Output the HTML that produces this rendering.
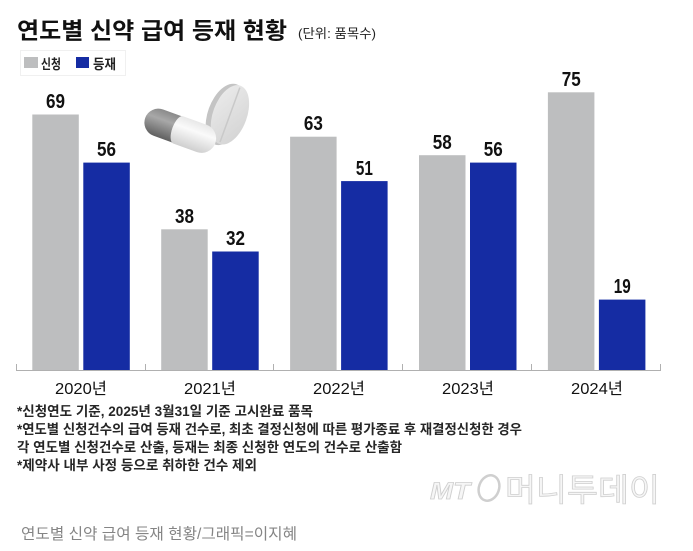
<!DOCTYPE html>
<html><head><meta charset="utf-8"><style>
html,body{margin:0;padding:0;background:#fff;}
svg{display:block;}
.k{font-family:"Liberation Sans","Noto Sans CJK KR",sans-serif;}
</style></head><body>
<svg width="693" height="551" viewBox="0 0 693 551" xmlns="http://www.w3.org/2000/svg">
<defs>
<linearGradient id="dk" x1="0" y1="0" x2="0" y2="1">
<stop offset="0" stop-color="#8a8a8a"/><stop offset="0.35" stop-color="#a8a8a8"/><stop offset="1" stop-color="#606060"/>
</linearGradient>
<linearGradient id="lt" x1="0" y1="0" x2="0" y2="1">
<stop offset="0" stop-color="#e8e8e8"/><stop offset="0.35" stop-color="#fafafa"/><stop offset="1" stop-color="#cfcfcf"/>
</linearGradient>
<linearGradient id="tb" x1="0" y1="0" x2="1" y2="1">
<stop offset="0" stop-color="#ececec"/><stop offset="1" stop-color="#d2d2d2"/>
</linearGradient>
</defs>
<rect width="693" height="551" fill="#fff"/>

<!-- Title -->
<text class="k" x="17" y="38.5" font-size="23" font-weight="bold" fill="#111" textLength="270" lengthAdjust="spacingAndGlyphs">연도별 신약 급여 등재 현황</text>
<text class="k" x="298" y="38" font-size="13" fill="#222" textLength="78" lengthAdjust="spacingAndGlyphs">(단위: 품목수)</text>

<!-- Legend -->
<rect x="20.5" y="50.5" width="105" height="25" fill="#fff" stroke="#f0f0f0"/>
<rect x="24" y="57" width="14" height="11" fill="#bdbebf"/>
<text class="k" x="41" y="69" font-size="13.5" font-weight="bold" fill="#222" textLength="20" lengthAdjust="spacingAndGlyphs">신청</text>
<rect x="76" y="57" width="13" height="11" fill="#152ca3"/>
<text class="k" x="93" y="69" font-size="13.5" font-weight="bold" fill="#222" textLength="23" lengthAdjust="spacingAndGlyphs">등재</text>

<!-- Pills -->
<g transform="translate(229,114.5) rotate(20)">
<ellipse cx="-3" cy="1" rx="18" ry="32" fill="#c4c4c4"/>
<ellipse cx="1" cy="0" rx="17" ry="31" fill="url(#tb)"/>
<line x1="1" y1="-29" x2="1" y2="29" stroke="#c9c9c9" stroke-width="1.5"/>
</g>
<g transform="translate(180,130.5) rotate(20)">
<path d="M0,-14 L-23,-14 A14,14 0 0 0 -23,14 L0,14 Z" fill="url(#dk)"/>
<path d="M-2,-14.5 L23,-14.5 A14.5,14.5 0 0 1 23,14.5 L-2,14.5 A6,14.5 0 0 1 -2,-14.5 Z" fill="url(#lt)"/>
</g>

<!-- Axis -->
<line x1="16" y1="370.5" x2="661" y2="370.5" stroke="#b0b0b0" stroke-width="1"/>
<g stroke="#b0b0b0" stroke-width="1">
<line x1="16.5" y1="364" x2="16.5" y2="371"/>
<line x1="145.5" y1="364" x2="145.5" y2="371"/>
<line x1="273.5" y1="364" x2="273.5" y2="371"/>
<line x1="402.5" y1="364" x2="402.5" y2="371"/>
<line x1="531.5" y1="364" x2="531.5" y2="371"/>
<line x1="660.5" y1="364" x2="660.5" y2="371"/>
</g>

<!-- Bars -->
<g fill="#bdbebf">
<rect x="32.3" y="114.5" width="46.5" height="255.5"/>
<rect x="161.2" y="229.3" width="46.5" height="140.7"/>
<rect x="290.1" y="136.7" width="46.5" height="233.3"/>
<rect x="419" y="155.2" width="46.5" height="214.8"/>
<rect x="547.9" y="92.3" width="46.5" height="277.7"/>
</g>
<g fill="#152ca3">
<rect x="83.3" y="162.6" width="46.5" height="207.4"/>
<rect x="212.2" y="251.5" width="46.5" height="118.5"/>
<rect x="341.1" y="181.1" width="46.5" height="188.9"/>
<rect x="470" y="162.6" width="46.5" height="207.4"/>
<rect x="598.9" y="299.6" width="46.5" height="70.4"/>
</g>

<!-- Value labels -->
<g class="k" font-size="20" font-weight="bold" fill="#111" text-anchor="middle">
<text x="55.5" y="108" textLength="19" lengthAdjust="spacingAndGlyphs">69</text>
<text x="106.5" y="156" textLength="19" lengthAdjust="spacingAndGlyphs">56</text>
<text x="184.5" y="223" textLength="19" lengthAdjust="spacingAndGlyphs">38</text>
<text x="235.5" y="245" textLength="19" lengthAdjust="spacingAndGlyphs">32</text>
<text x="313.4" y="130" textLength="19" lengthAdjust="spacingAndGlyphs">63</text>
<text x="364.4" y="175" textLength="17" lengthAdjust="spacingAndGlyphs">51</text>
<text x="442.3" y="149" textLength="19" lengthAdjust="spacingAndGlyphs">58</text>
<text x="493.3" y="156" textLength="19" lengthAdjust="spacingAndGlyphs">56</text>
<text x="571.2" y="86" textLength="19" lengthAdjust="spacingAndGlyphs">75</text>
<text x="622.2" y="293" textLength="17" lengthAdjust="spacingAndGlyphs">19</text>
</g>

<!-- Year labels -->
<g class="k" font-size="16" fill="#111" text-anchor="middle">
<text x="81" y="394" textLength="52" lengthAdjust="spacingAndGlyphs">2020년</text>
<text x="210" y="394" textLength="52" lengthAdjust="spacingAndGlyphs">2021년</text>
<text x="339" y="394" textLength="52" lengthAdjust="spacingAndGlyphs">2022년</text>
<text x="468" y="394" textLength="52" lengthAdjust="spacingAndGlyphs">2023년</text>
<text x="597" y="394" textLength="52" lengthAdjust="spacingAndGlyphs">2024년</text>
</g>

<!-- Footnotes -->
<g class="k" font-size="13.5" font-weight="bold" fill="#262626">
<text x="17" y="416" textLength="296" lengthAdjust="spacingAndGlyphs">*신청연도 기준, 2025년 3월31일 기준 고시완료 품목</text>
<text x="17" y="434" textLength="505" lengthAdjust="spacingAndGlyphs">*연도별 신청건수의 급여 등재 건수로, 최초 결정신청에 따른 평가종료 후 재결정신청한 경우</text>
<text x="17" y="452" textLength="385" lengthAdjust="spacingAndGlyphs">각 연도별 신청건수로 산출, 등재는 최종 신청한 연도의 건수로 산출함</text>
<text x="17" y="470" textLength="240" lengthAdjust="spacingAndGlyphs">*제약사 내부 사정 등으로 취하한 건수 제외</text>
</g>

<!-- Watermark -->
<g fill="#f6f6f6" stroke="#cfcfcf" stroke-width="0.8">
<text class="k" x="430" y="499" font-size="24" font-style="italic" font-weight="bold" textLength="40" lengthAdjust="spacingAndGlyphs">MT</text>
<ellipse cx="489" cy="488" rx="10" ry="13" transform="rotate(20 489 488)" fill="none" stroke-width="2.5"/>
<text class="k" x="505" y="501" font-size="32" textLength="155" lengthAdjust="spacingAndGlyphs">머니투데이</text>
</g>

<!-- Caption -->
<text class="k" x="21" y="539" font-size="15.5" fill="#858585" textLength="276" lengthAdjust="spacingAndGlyphs">연도별 신약 급여 등재 현황/그래픽=이지혜</text>
</svg>
</body></html>
